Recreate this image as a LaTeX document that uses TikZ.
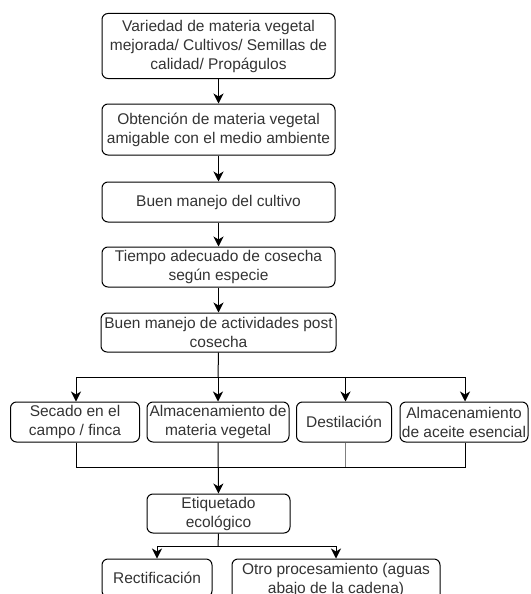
\documentclass[tikz,border=0pt]{standalone}
\usepackage{fontspec}
\setmainfont{Liberation Sans}
\usetikzlibrary{arrows.meta}
\begin{document}
\begin{tikzpicture}[x=1pt,y=-1pt,
  box/.style={draw, line width=1pt, rounded corners=6pt, inner sep=0pt, align=center,
    font=\fontsize{15.5}{19}\selectfont, text=black!80},
  link/.style={line width=1pt},
  arr/.style={line width=1pt, -{Stealth[length=10pt,width=10pt,inset=3pt]}}]
\useasboundingbox (0,0) rectangle (530,594);
\clip (0,0) rectangle (530,594);

% main chain
\node[box, minimum width=233pt, minimum height=65pt] (n1) at (218.5,46)
  {Variedad de materia vegetal\\mejorada/ Cultivos/ Semillas de\\calidad/ Propágulos};
\node[box, minimum width=233pt, minimum height=51pt] (n2) at (218.5,129.5)
  {Obtención de materia vegetal\\amigable con el medio ambiente};
\node[box, minimum width=233pt, minimum height=40pt] (n3) at (218.5,202)
  {Buen manejo del cultivo};
\node[box, minimum width=233pt, minimum height=40pt] (n4) at (218.5,267)
  {Tiempo adecuado de cosecha\\según especie};
\node[box, minimum width=235pt, minimum height=39pt] (n5) at (218.5,332.5)
  {Buen manejo de actividades post\\cosecha};

% post-harvest branches
\node[box, minimum width=129pt, minimum height=40pt] (a) at (75,422)
  {Secado en el\\campo / finca};
\node[box, minimum width=142pt, minimum height=40pt] (b) at (218,422)
  {Almacenamiento de\\materia vegetal};
\node[box, minimum width=95pt, minimum height=40pt] (c) at (344,422)
  {Destilación};
\node[box, minimum width=128pt, minimum height=40pt] (d) at (464,422)
  {Almacenamiento\\de aceite esencial};

% labelling and downstream
\node[box, minimum width=143pt, minimum height=39pt] (e) at (218.5,513.5)
  {Etiquetado\\ecológico};
\node[box, minimum width=110pt, minimum height=38pt] (f) at (157,578)
  {Rectificación};
\node[box, minimum width=208pt, minimum height=42pt] (g) at (336,580)
  {Otro procesamiento (aguas\\abajo de la cadena)};

\coordinate (j1) at (218,377);
\coordinate (j2) at (218,467);
\coordinate (j3) at (218,546);

\draw[arr] (n1) -- (n2);
\draw[arr] (n2) -- (n3);
\draw[arr] (n3) -- (n4);
\draw[arr] (n4) -- (n5);

\draw[link] (n5.south) -- (j1);
\draw[arr] (j1) -| ([xshift=1pt]a.north);
\draw[arr] (j1) -- (b.north);
\draw[arr] (j1) -| ([xshift=1.5pt]c.north);
\draw[arr] (j1) -| ([xshift=1pt]d.north);

\draw[link] ([xshift=1pt]a.south) |- (j2);
\draw[link] ([xshift=1pt]d.south) |- (j2);
\draw[link, gray] ([xshift=1.5pt]c.south) -- ([xshift=1.5pt]c.south |- j2);
\draw[arr] (b.south) -- (e.north);

\draw[link] (e.south) -- (j3);
\draw[arr] (j3) -| (f.north);
\draw[arr] (j3) -| (g.north);
\end{tikzpicture}
\end{document}
